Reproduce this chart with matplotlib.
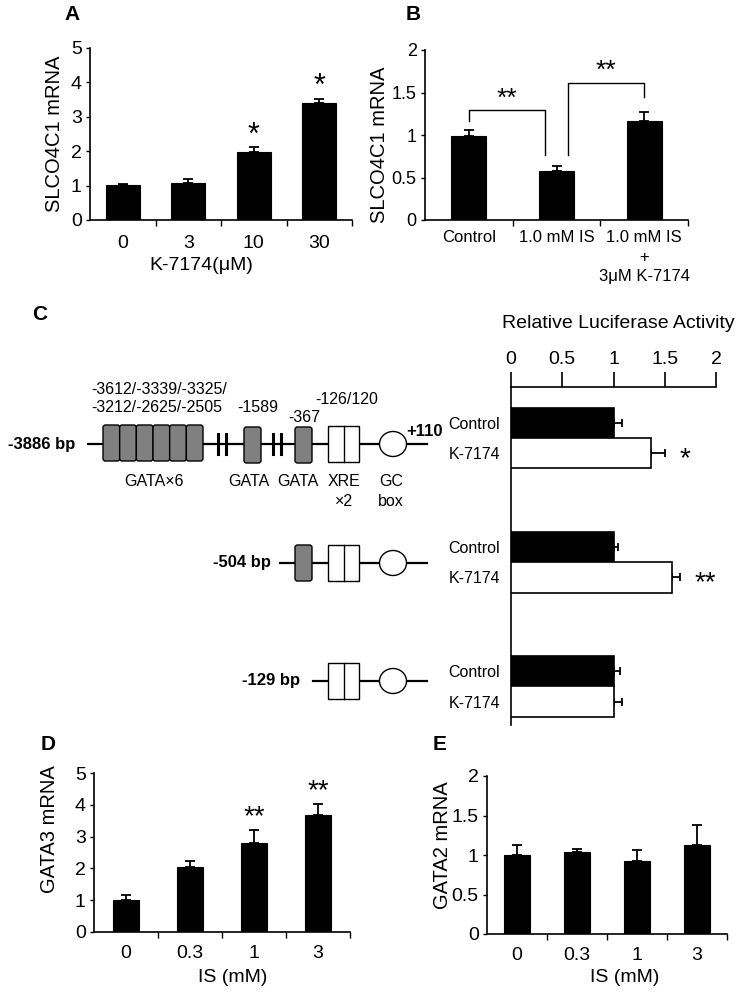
import matplotlib
matplotlib.use('Agg')
import matplotlib.pyplot as plt
from matplotlib.patches import FancyBboxPatch, Rectangle, Ellipse
import numpy as np

plt.rcParams['font.family'] = ['Liberation Sans', 'DejaVu Sans']

# ---------------- data ----------------
A_doses = ['0', '3', '10', '30']
A_mrna = [1.03, 1.09, 1.98, 3.39]
A_err = [0.03, 0.09, 0.13, 0.14]
A_sig = ['', '', '*', '*']

B_groups = ['Control', '1.0 mM IS', '1.0 mM IS\n+\n3μM K-7174']
B_mrna = [0.99, 0.58, 1.165]
B_err = [0.065, 0.055, 0.105]
B_yticks = [0, 0.5, 1, 1.5, 2]
B_yticklabels = ['0', '0.5', '1', '1.5', '2']

C_constructs = ['-3886 bp', '-504 bp', '-129 bp']
C_treatments = ['Control', 'K-7174']
C_control = [1.0, 1.0, 1.0]
C_control_err = [0.085, 0.04, 0.065]
C_k7174 = [1.37, 1.575, 1.0]
C_k7174_err = [0.13, 0.075, 0.08]
C_sig = ['*', '**', '']
C_xticks = [0, 0.5, 1, 1.5, 2]
C_xticklabels = ['0', '0.5', '1', '1.5', '2']

D_doses = ['0', '0.3', '1', '3']
D_gata3 = [1.02, 2.04, 2.8, 3.67]
D_err = [0.13, 0.19, 0.42, 0.37]
D_sig = ['', '', '**', '**']

E_doses = ['0', '0.3', '1', '3']
E_gata2 = [1.0, 1.035, 0.93, 1.125]
E_err = [0.13, 0.035, 0.13, 0.255]
E_yticks = [0, 0.5, 1, 1.5, 2]
E_yticklabels = ['0', '0.5', '1', '1.5', '2']

W, H = 738, 993
fig = plt.figure(figsize=(W / 100, H / 100), dpi=100)

# overlay axes in pixel coordinates for diagram / panel letters
ax0 = fig.add_axes([0, 0, 1, 1], zorder=-1)
ax0.set_xlim(0, W)
ax0.set_ylim(H, 0)
ax0.axis('off')


def px_axes(l, t, r, b):
    ax = fig.add_axes([l / W, 1 - b / H, (r - l) / W, (b - t) / H])
    ax.patch.set_alpha(0)
    return ax


def vbar_panel(ax, cats, vals, errs, width, ylim, yticks, yticklabels,
               ytick_fs=14, xtick_fs=14, xpad=10):
    x = np.arange(len(cats))
    ax.bar(x, vals, width=width, color='black', edgecolor='black',
           linewidth=0.8, zorder=3)
    ax.errorbar(x, vals, yerr=[np.zeros(len(vals)), errs], fmt='none',
                ecolor='black', elinewidth=1.3, capsize=3.5, capthick=1.3,
                zorder=2)
    ax.set_xlim(-0.5, len(cats) - 0.5)
    ax.set_ylim(*ylim)
    ax.set_yticks(yticks, labels=yticklabels)
    ax.set_xticks(np.arange(len(cats)) + 0.5, labels=[''] * len(cats))
    ax.set_xticks(x, labels=cats, minor=True)
    ax.tick_params(axis='x', which='major', direction='out', length=4,
                   width=1.0)
    ax.tick_params(axis='x', which='minor', length=0, pad=xpad,
                   labelsize=xtick_fs)
    ax.tick_params(axis='y', direction='out', length=3, width=1.0,
                   labelsize=ytick_fs, pad=3)
    for s in ['top', 'right']:
        ax.spines[s].set_visible(False)
    for s in ['left', 'bottom']:
        ax.spines[s].set_linewidth(1.2)
    return x


# ---------------- Panel A ----------------
axA = px_axes(90, 48, 352, 220)
xA = vbar_panel(axA, A_doses, A_mrna, A_err, 0.52, (0, 5), range(6),
                [str(i) for i in range(6)], xpad=11)
for xi, v, e, s in zip(xA, A_mrna, A_err, A_sig):
    if s:
        axA.text(xi, v + e - 0.1, s, ha='center', va='bottom', fontsize=22)
axA.set_ylabel('SLCO4C1 mRNA', fontsize=14.5, va='center')
axA.yaxis.set_label_coords(-0.134, 0.5)
axA.set_xlabel('K-7174(μM)', fontsize=14, va='center')
axA.xaxis.set_label_coords(0.424, -0.262)

# ---------------- Panel B ----------------
axB = px_axes(425, 50, 688, 220)
xB = vbar_panel(axB, B_groups, B_mrna, B_err, 0.4, (0, 2), B_yticks,
                B_yticklabels, ytick_fs=13, xtick_fs=12, xpad=7)
for lab in axB.get_xticklabels(minor=True):
    lab.set_linespacing(1.4)
axB.set_ylabel('SLCO4C1 mRNA', fontsize=14.5, va='center')
axB.yaxis.set_label_coords(-0.172, 0.44)
# significance brackets
br1 = ([xB[0], xB[0], xB[1] - 0.13, xB[1] - 0.13], [1.17, 1.29, 1.29, 0.765])
br2 = ([xB[1] + 0.13, xB[1] + 0.13, xB[2], xB[2]], [0.765, 1.61, 1.61, 1.45])
for bx, by in (br1, br2):
    axB.plot(bx, by, color='black', lw=1.0, clip_on=False)
axB.text((br1[0][0] + br1[0][2]) / 2, 1.28, '**', ha='center', va='bottom',
         fontsize=19)
axB.text((br2[0][0] + br2[0][2]) / 2, 1.61, '**', ha='center', va='bottom',
         fontsize=19)

# ---------------- Panel C (bar chart) ----------------
axC = px_axes(511, 387, 716, 725)
g = np.arange(len(C_constructs))
bh = 0.245
nz = np.zeros(len(g))
axC.barh(g - bh / 2, C_control, height=bh, color='black', edgecolor='black',
         linewidth=1.2, zorder=3)
axC.barh(g + bh / 2, C_k7174, height=bh, color='white', edgecolor='black',
         linewidth=1.2, zorder=3)
axC.errorbar(C_control, g - bh / 2, xerr=[nz, C_control_err], fmt='none',
             ecolor='black', elinewidth=1.3, capsize=3, capthick=1.3, zorder=2)
axC.errorbar(C_k7174, g + bh / 2, xerr=[nz, C_k7174_err], fmt='none',
             ecolor='black', elinewidth=1.3, capsize=3, capthick=1.3, zorder=2)
for gi, v, e, s in zip(g, C_k7174, C_k7174_err, C_sig):
    if s:
        axC.text(v + e + 0.14, gi + bh / 2 + 0.05, s, ha='left',
                 va='center', fontsize=20)
axC.set_xlim(0, 2)
axC.set_ylim(2.31, -0.41)
axC.xaxis.tick_top()
axC.set_xticks(C_xticks, labels=C_xticklabels)
axC.tick_params(axis='x', direction='out', length=11, width=1.2,
                labelsize=14, pad=3)
yt = np.concatenate([g - bh / 2, g + bh / 2])
ylabs = [C_treatments[0]] * len(g) + [C_treatments[1]] * len(g)
axC.set_yticks(yt, labels=ylabs)
axC.tick_params(axis='y', length=0, pad=8, labelsize=11.5)
axC.spines['right'].set_visible(False)
axC.spines['bottom'].set_visible(False)
axC.spines['top'].set_linewidth(1.2)
axC.spines['left'].set_linewidth(1.2)
ax0.text(618, 323, 'Relative Luciferase Activity', ha='center', va='center',
         fontsize=14)

# ---------------- Panel C (promoter diagram) ----------------
GRAY = '#808080'


def gata(x0, x1, yc, h=36):
    ax0.add_patch(FancyBboxPatch((x0, yc - h / 2), x1 - x0, h,
                                 boxstyle='round,pad=0,rounding_size=2.5',
                                 fc=GRAY, ec='black', lw=1.0, zorder=3))


def xre(x0, x1, yc, h=36):
    ax0.add_patch(Rectangle((x0, yc - h / 2), x1 - x0, h, fc='white',
                            ec='black', lw=1.0, zorder=3))
    xm = (x0 + x1) / 2
    ax0.plot([xm, xm], [yc - h / 2, yc + h / 2], color='black', lw=1.0,
             zorder=4)


def gcbox(xc, yc):
    ax0.add_patch(Ellipse((xc, yc), 27, 25, fc='white', ec='black', lw=1.0,
                          zorder=3))


def brk(x, yc):
    ax0.plot([x, x], [yc - 10, yc + 10], color='black', lw=2.2, zorder=3)


row_y = [444, 563, 681]
row_start = [88, 280, 313]
row_label_x = [75, 271, 300]
for yc, xs, lx, lab in zip(row_y, row_start, row_label_x, C_constructs):
    ax0.plot([xs, 427], [yc, yc], color='black', lw=1.6, zorder=1)
    ax0.text(lx, yc, lab, ha='right', va='center', fontsize=12,
             fontweight='bold')

# row 1
for i in range(6):
    w6 = 100 / 6
    gata(103 + i * w6, 103 + (i + 1) * w6, 443)
for bx in (218, 226, 273, 281):
    brk(bx, 444)
gata(244, 261, 445)
gata(295, 312, 445)
xre(328, 359, 444)
gcbox(393, 444)
# row 2
gata(295, 312, 563)
xre(328, 359, 563)
gcbox(393, 563)
# row 3
xre(328, 359, 681)
gcbox(393, 681)

fs_d = 11.5
ax0.text(91, 390, '-3612/-3339/-3325/', ha='left', va='center', fontsize=fs_d)
ax0.text(91, 408, '-3212/-2625/-2505', ha='left', va='center', fontsize=fs_d)
ax0.text(258, 408, '-1589', ha='center', va='center', fontsize=fs_d)
ax0.text(304, 418, '-367', ha='center', va='center', fontsize=fs_d)
ax0.text(347, 399, '-126/120', ha='center', va='center', fontsize=fs_d)
ax0.text(406, 432, '+110', ha='left', va='center', fontsize=12,
         fontweight='bold')
for txt, xc in [('GATA×6', 154), ('GATA', 249), ('GATA', 298), ('XRE', 344),
                ('GC', 391)]:
    ax0.text(xc, 482, txt, ha='center', va='center', fontsize=fs_d)
for txt, xc in [('×2', 344), ('box', 391)]:
    ax0.text(xc, 501, txt, ha='center', va='center', fontsize=fs_d)

# ---------------- Panel D ----------------
axD = px_axes(94, 773, 350, 932)
xD = vbar_panel(axD, D_doses, D_gata3, D_err, 0.42, (0, 5), range(6),
                [str(i) for i in range(6)], xpad=9)
for xi, v, e, s in zip(xD, D_gata3, D_err, D_sig):
    if s:
        axD.text(xi, v + e - 0.03, s, ha='center', va='bottom', fontsize=20)
axD.set_ylabel('GATA3 mRNA', fontsize=14.5, va='center')
axD.yaxis.set_label_coords(-0.172, 0.648)
axD.set_xlabel('IS (mM)', fontsize=14, va='center')
axD.xaxis.set_label_coords(0.543, -0.289)

# ---------------- Panel E ----------------
axE = px_axes(487, 776, 727, 934)
vbar_panel(axE, E_doses, E_gata2, E_err, 0.42, (0, 2), E_yticks,
           E_yticklabels, xpad=9)
axE.set_ylabel('GATA2 mRNA', fontsize=14.5, va='center')
axE.yaxis.set_label_coords(-0.1875, 0.563)
axE.set_xlabel('IS (mM)', fontsize=14, va='center')
axE.xaxis.set_label_coords(0.575, -0.278)

# ---------------- panel letters ----------------
for letter, (lx, ly) in {'A': (72, 14), 'B': (413, 14), 'C': (40, 315),
                         'D': (48, 745), 'E': (440, 745)}.items():
    ax0.text(lx, ly, letter, ha='center', va='center', fontsize=15,
             fontweight='bold')

fig.savefig('out.png', dpi=100)
